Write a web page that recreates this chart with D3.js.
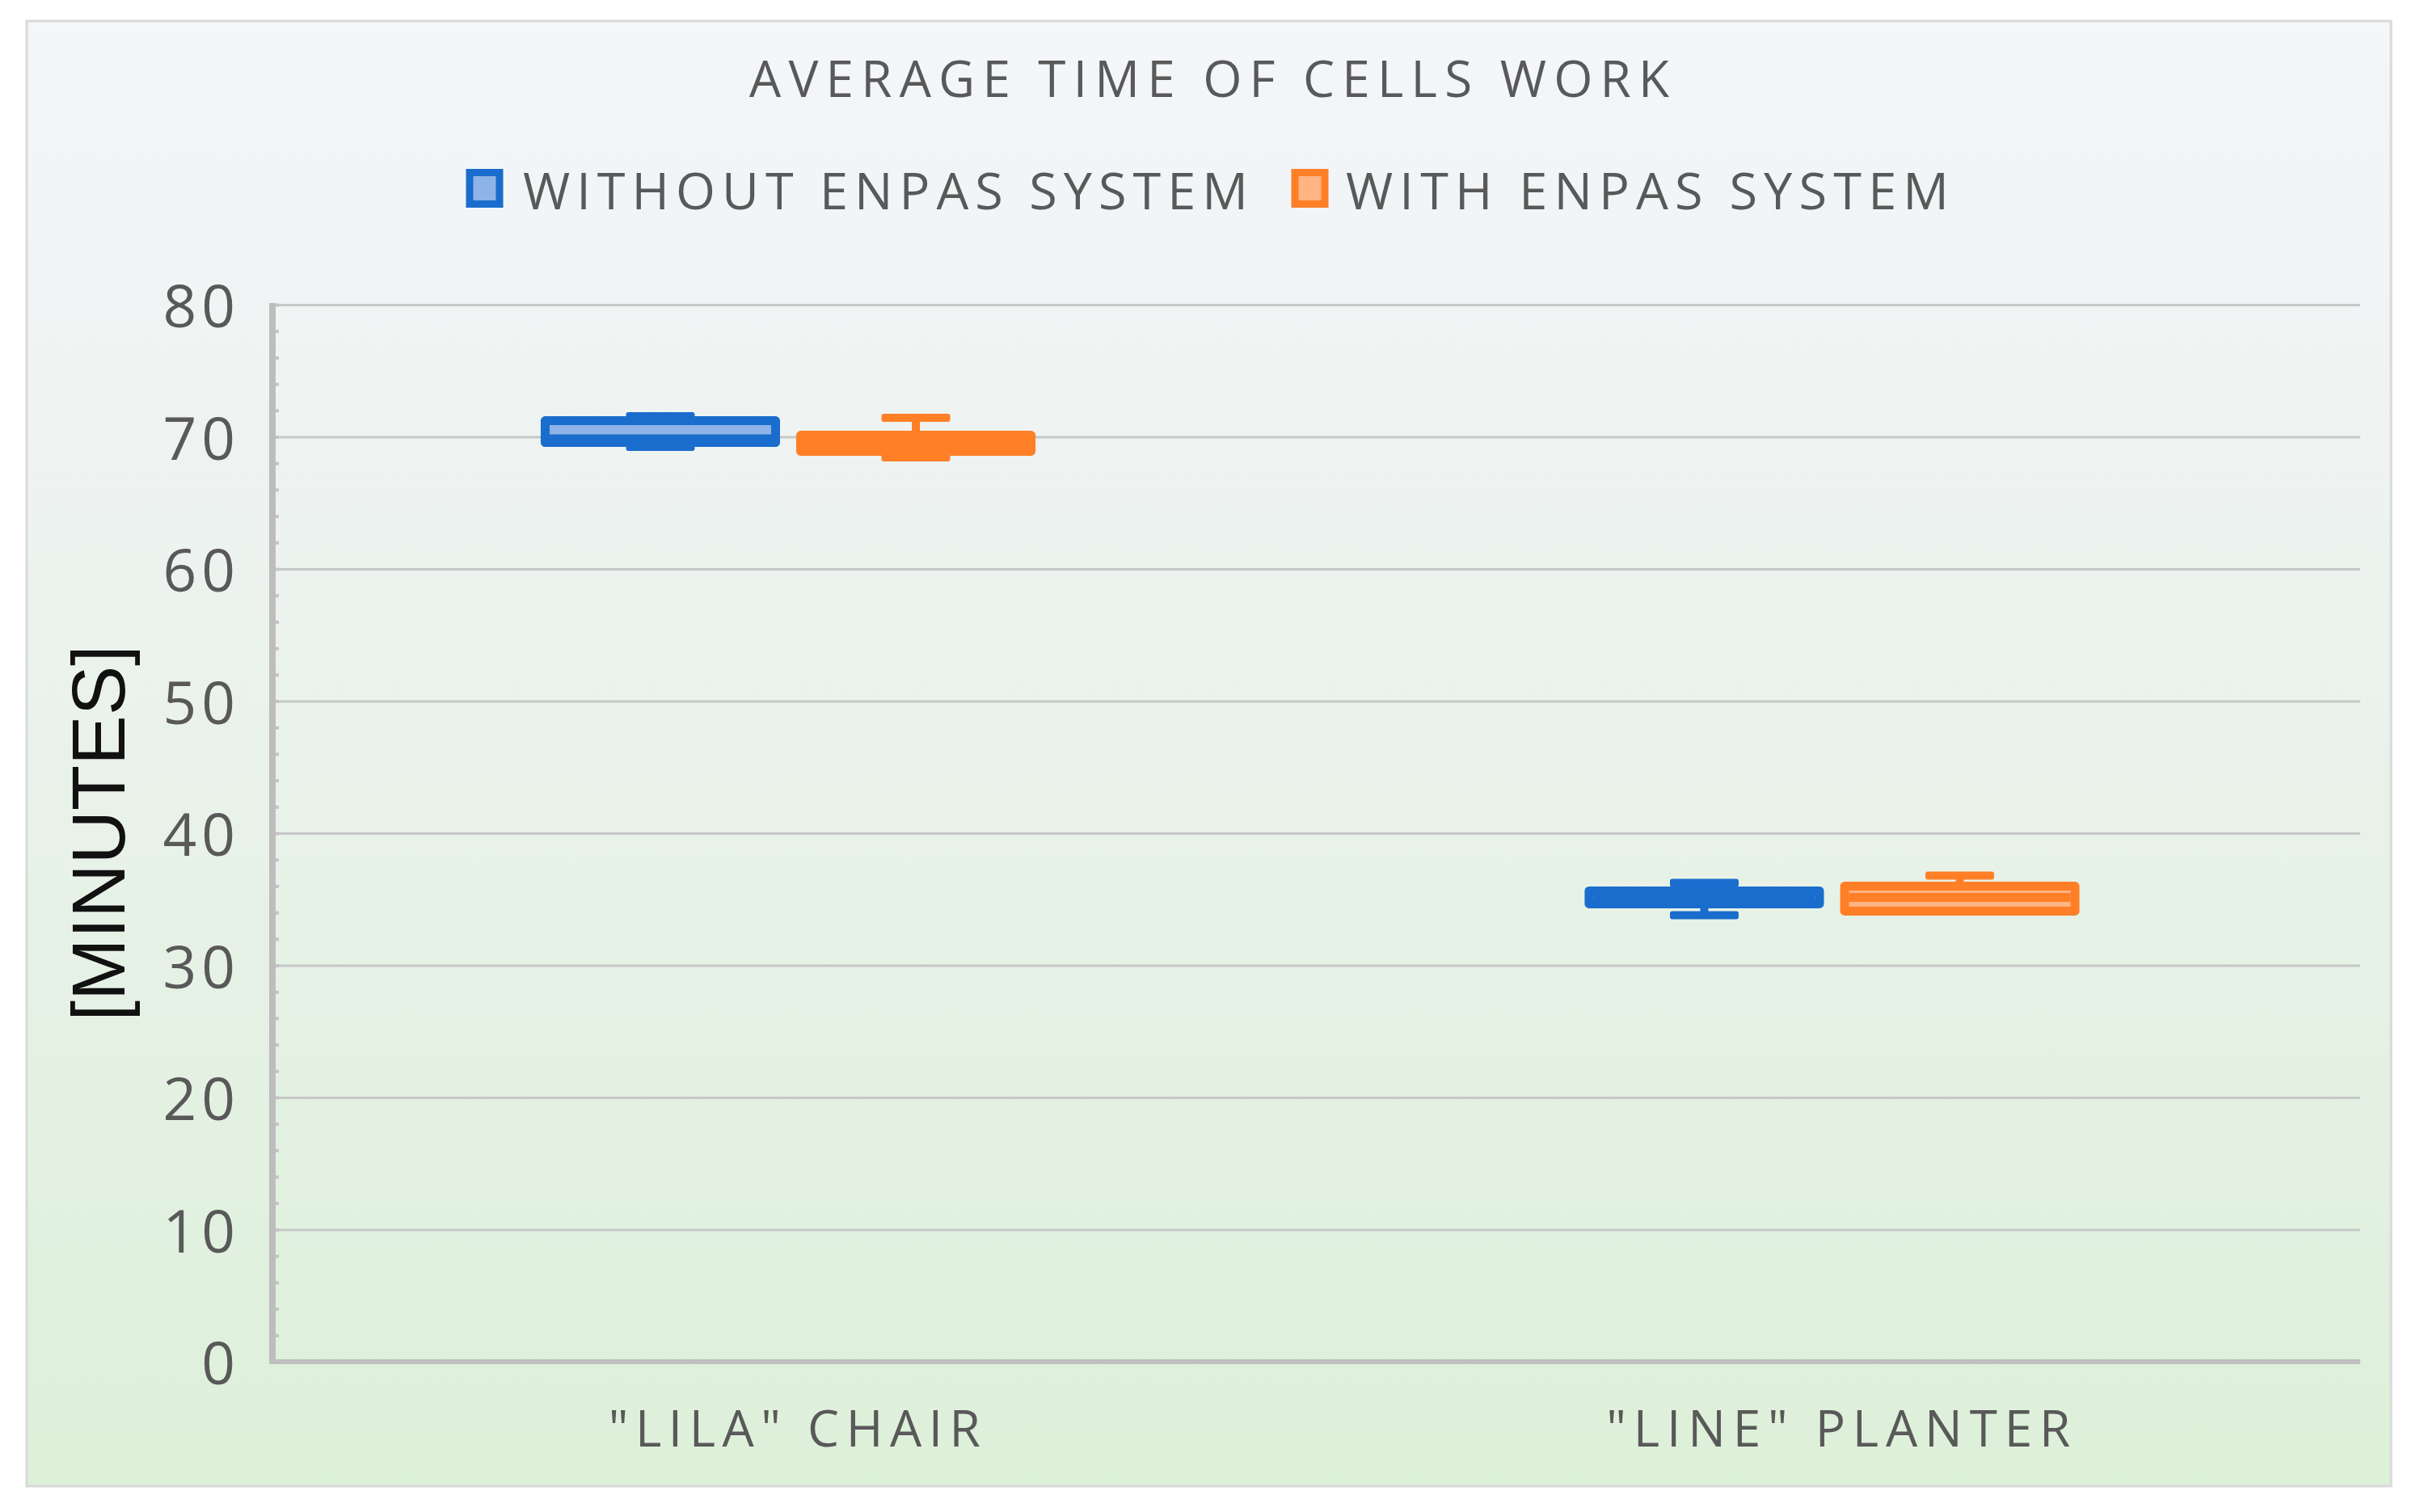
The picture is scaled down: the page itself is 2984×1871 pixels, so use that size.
<!DOCTYPE html>
<html><head><meta charset="utf-8">
<script src="https://cdn.jsdelivr.net/npm/d3@7"></script>
<style>html,body{margin:0;padding:0;background:#fff;} svg{display:block;}</style>
</head><body>
<script>
const categories = ['"LILA" CHAIR', '"LINE" PLANTER'];
const seriesNames = ["WITHOUT ENPAS SYSTEM", "WITH ENPAS SYSTEM"];
// five-number summaries per category: [min, q1, median, q3, max]
const withoutEnpas = [[69.24, 69.57, 69.85, 71.22, 71.56], [33.79, 34.65, 35.14, 35.63, 36.24]];
const withEnpas    = [[68.44, 68.90, 69.51, 70.12, 71.44], [34.10, 34.10, 35.14, 35.99, 36.79]];
const yTicks = [0, 10, 20, 30, 40, 50, 60, 70, 80];
const yDomain = [0, 80];

const W = 2984, H = 1871;
const plot = {left: 337, right: 2920, top: 377, bottom: 1685};
const darkColors = ["#1a6dcc", "#ff7f27"];
const lightColors = ["#8db3e8", "#ffb483"];
const textColor = "#595959";
const font = "'Open Sans', 'DejaVu Sans', sans-serif";

const svg = d3.select("body").append("svg").attr("width", W).attr("height", H);
const defs = svg.append("defs");
const grad = defs.append("linearGradient").attr("id", "bg").attr("x1", 0).attr("y1", 0).attr("x2", 0).attr("y2", 1);
grad.append("stop").attr("offset", 0).attr("stop-color", "#f4f6fa");
grad.append("stop").attr("offset", 0.3).attr("stop-color", "#eef3f1");
grad.append("stop").attr("offset", 1).attr("stop-color", "#ddf0d9");

svg.append("rect").attr("width", W).attr("height", H).attr("fill", "#fff");
svg.append("rect").attr("x", 33).attr("y", 26).attr("width", 2925).attr("height", 1813)
  .attr("fill", "url(#bg)").attr("stroke", "#d9d9d9").attr("stroke-width", 3);

const y = d3.scaleLinear().domain(yDomain).range([plot.bottom, plot.top]);
const x = d3.scaleBand().domain(categories).range([plot.left, plot.right]).padding(0);
const bwOuter = x.bandwidth();
const xInner = d3.scaleBand().domain(seriesNames)
  .range([bwOuter * 0.257, bwOuter * 0.731]).paddingInner(0.0633).paddingOuter(0);

// gridlines
const grid = svg.append("g").attr("transform", `translate(${plot.left},0)`)
  .call(d3.axisLeft(y).tickValues(yTicks.filter(v => v > 0)).tickSize(-(plot.right - plot.left)).tickFormat(""));
grid.select(".domain").remove();
grid.selectAll(".tick line").attr("stroke", "#c6c8c8").attr("stroke-width", 3);

// minor ticks
const minor = svg.append("g").attr("transform", `translate(${plot.left},0)`)
  .call(d3.axisRight(y).ticks(40).tickSize(8).tickFormat(""));
minor.select(".domain").remove();
minor.selectAll(".tick line").attr("stroke", "#c4c4c4").attr("stroke-width", 4);

// y axis labels
const yAx = svg.append("g").attr("transform", `translate(297,0)`)
  .call(d3.axisLeft(y).tickValues(yTicks).tickSize(0).tickPadding(0));
yAx.select(".domain").remove();
yAx.selectAll("text").attr("font-family", font).attr("font-size", 73).attr("fill", textColor)
  .attr("letter-spacing", 6).attr("dy", "0.38em");

// y axis line
svg.append("line").attr("x1", plot.left).attr("x2", plot.left).attr("y1", plot.top - 2).attr("y2", plot.bottom)
  .attr("stroke", "#bdbdbd").attr("stroke-width", 8);

// x axis line
svg.append("line").attr("x1", plot.left - 4).attr("x2", plot.right).attr("y1", plot.bottom).attr("y2", plot.bottom)
  .attr("stroke", "#bfbfbf").attr("stroke-width", 6);

// x axis labels
const xAx = svg.append("g").attr("transform", `translate(0,${plot.bottom})`)
  .call(d3.axisBottom(x).tickSize(0).tickPadding(0));
xAx.select(".domain").remove();
const xLabelWidths = [460, 574];
xAx.selectAll("text").attr("font-family", font).attr("font-size", 62).attr("fill", textColor)
  .attr("dy", 0).attr("y", 105)
  .attr("textLength", (d, i) => xLabelWidths[i]).attr("lengthAdjust", "spacing");

// boxes
const seriesData = [withoutEnpas, withEnpas];
const stroke = 11, capH = 10;
seriesNames.forEach((s, si) => {
  const g = svg.append("g");
  categories.forEach((c, ci) => {
    const [mn, q1, med, q3, mx] = seriesData[si][ci];
    const x0 = x(c) + xInner(s);
    const bw = xInner.bandwidth();
    const cx = x0 + bw / 2;
    const capW = bw * 0.287;
    const col = darkColors[si];
    g.append("line").attr("x1", cx).attr("x2", cx).attr("y1", y(mx)).attr("y2", y(mn))
      .attr("stroke", col).attr("stroke-width", 10);
    [mn, mx].forEach(v => {
      g.append("rect").attr("x", cx - capW / 2).attr("y", y(v) - capH / 2)
        .attr("width", capW).attr("height", capH).attr("rx", 3).attr("fill", col);
    });
    g.append("rect").attr("x", x0 + stroke / 2).attr("y", y(q3))
      .attr("width", bw - stroke).attr("height", y(q1) - y(q3))
      .attr("fill", lightColors[si]).attr("stroke", col).attr("stroke-width", stroke)
      .attr("stroke-linejoin", "round");
    g.append("line").attr("x1", x0 + stroke).attr("x2", x0 + bw - stroke)
      .attr("y1", y(med)).attr("y2", y(med)).attr("stroke", col).attr("stroke-width", stroke);
  });
});

// title
svg.append("text").attr("x", 1496).attr("y", 120).attr("text-anchor", "middle")
  .attr("font-family", font).attr("font-size", 62).attr("fill", textColor)
  .attr("textLength", 1138).attr("lengthAdjust", "spacing")
  .text("AVERAGE TIME OF CELLS WORK");

// legend
const legendX = [581, 1602];
const legendTextX = [647, 1665];
const legendTextW = [897, 746];
seriesNames.forEach((s, si) => {
  svg.append("rect").attr("x", legendX[si]).attr("y", 213.5).attr("width", 37).attr("height", 39)
    .attr("fill", lightColors[si]).attr("stroke", darkColors[si]).attr("stroke-width", 9);
  svg.append("text").attr("x", legendTextX[si]).attr("y", 259)
    .attr("font-family", font).attr("font-size", 63).attr("fill", textColor)
    .attr("textLength", legendTextW[si]).attr("lengthAdjust", "spacing").text(s);
});

// y title
svg.append("text").attr("transform", "translate(154,1031) rotate(-90)").attr("text-anchor", "middle")
  .attr("font-family", "'Liberation Sans', Arial, sans-serif").attr("font-size", 92).attr("fill", "#111")
  .text("[MINUTES]");
</script>
</body></html>
